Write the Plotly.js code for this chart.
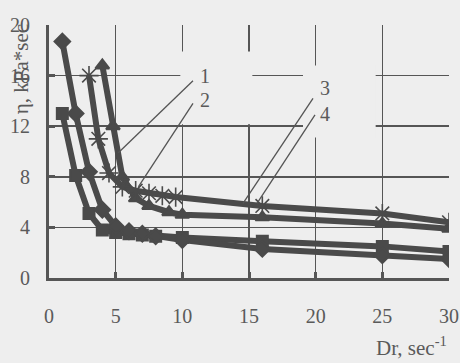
<!DOCTYPE html>
<html>
<head>
<meta charset="utf-8">
<script src="https://cdn.plot.ly/plotly-3.0.1.min.js"></script>
<style>html,body{margin:0;padding:0;background:#eeeeee;}#chart{width:460px;height:363px;}</style>
</head>
<body>
<div id="chart"></div>
<script>
// Series data
const squareX = [1, 2, 3, 4, 5, 6, 7, 8, 10, 16, 25, 30];
const squareY = [13, 8.1, 5.1, 3.8, 3.6, 3.5, 3.4, 3.3, 3.2, 2.9, 2.5, 2.1];
const diamondX = [1, 2, 3, 4, 5, 6, 7, 8, 10, 16, 25, 30];
const diamondY = [18.7, 13, 8.4, 5.4, 4.1, 3.7, 3.5, 3.3, 3.0, 2.3, 1.8, 1.5];
const starX = [3, 3.7, 4.5, 5.5, 6.5, 7.5, 8.5, 9.5, 16, 25, 30];
const starY = [16, 11, 8.3, 7.2, 6.9, 6.7, 6.5, 6.4, 5.7, 5.1, 4.4];
const triX = [4, 4.8, 5.5, 6.5, 7.5, 9, 10, 16, 25, 30];
const triY = [16.8, 12, 8, 6.3, 5.7, 5.2, 5.0, 4.8, 4.3, 3.9];
const xTicks = [0, 5, 10, 15, 20, 25, 30];
const yTicks = [0, 4, 8, 12, 16, 20];
const curveLabels = ['1', '2', '3', '4'];

const C = '#4a4a4a';
const font = {family: 'Liberation Serif', size: 20, color: '#5a5a5a'};
const fontT = {family: 'Liberation Serif', size: 21, color: '#5a5a5a'};

function tr(x, y, sym, size, extra) {
  return Object.assign({
    x: x, y: y, type: 'scatter', mode: 'lines+markers',
    line: {color: C, width: 6},
    marker: {symbol: sym, size: size, color: C, line: {color: C, width: 2}},
    hoverinfo: 'skip', showlegend: false
  }, extra || {});
}

const data = [
  tr(squareX, squareY, 'square', 11),
  tr(diamondX, diamondY, 'diamond', 12),
  tr(triX, triY, 'triangle-up', 12),
  tr(starX, starY, 'asterisk-open', 16, {marker: {symbol: 'asterisk-open', size: 16, color: C, line: {color: C, width: 1.6}}})
];

const leader = [
  [10.8, 15.6, 5.2, 9.9],
  [10.8, 13.8, 6.7, 7.2],
  [19.8, 14.2, 14.55, 5.9],
  [19.95, 12.9, 15.6, 5.9]
];
const labelPos = [[11.7, 16.0], [11.7, 14.1], [20.7, 15.0], [20.7, 13.0]];

const shapes = [
  {type: 'rect', xref: 'x', yref: 'y', x0: 9.85, x1: 15.25, y0: 12.15, y1: 17.9,
   fillcolor: '#eeeeee', line: {width: 0}, layer: 'between'},
  {type: 'rect', xref: 'x', yref: 'y', x0: 19.05, x1: 24.5, y0: 11.1, y1: 16.8,
   fillcolor: '#eeeeee', line: {width: 0}, layer: 'between'}
];
leader.forEach(l => shapes.push({type: 'line', xref: 'x', yref: 'y',
  x0: l[0], y0: l[1], x1: l[2], y1: l[3], line: {color: '#555555', width: 1.3}, layer: 'above'}));

const annotations = curveLabels.map((t, i) => ({
  text: t, x: labelPos[i][0], y: labelPos[i][1], xref: 'x', yref: 'y',
  showarrow: false, font: font, xanchor: 'center', yanchor: 'middle'
}));
annotations.push({text: 'η, kPa*sec', xref: 'paper', yref: 'paper', x: -0.07, y: 0.825,
  textangle: -90, showarrow: false, font: fontT,
  xanchor: 'center', yanchor: 'middle'});
annotations.push({text: 'Dr, sec<sup>-1</sup>', xref: 'paper', yref: 'paper', x: 1.0, y: -0.27,
  showarrow: false, font: fontT, xanchor: 'right', yanchor: 'middle'});

const layout = {
  width: 460, height: 363,
  font: font,
  margin: {l: 49, r: 11, t: 25, b: 85},
  paper_bgcolor: '#eeeeee', plot_bgcolor: '#eeeeee',
  showlegend: false,
  xaxis: {range: [0, 30], tickvals: xTicks, ticktext: xTicks.map(String),
    showgrid: true, gridcolor: '#555555', gridwidth: 1.5, zeroline: false,
    showline: true, linecolor: '#555555', linewidth: 3,
    ticks: 'inside', ticklen: 6, tickwidth: 3, tickcolor: '#555555',
    tickfont: font, ticklabelstandoff: 18, fixedrange: true},
  yaxis: {range: [0, 20], tickvals: yTicks, ticktext: yTicks.map(String),
    showgrid: true, gridcolor: '#555555', gridwidth: 1.5, zeroline: false,
    showline: true, linecolor: '#555555', linewidth: 3,
    ticks: 'inside', ticklen: 6, tickwidth: 3, tickcolor: '#555555',
    tickfont: font, ticklabelstandoff: 12, fixedrange: true},
  shapes: shapes,
  annotations: annotations
};

Plotly.newPlot('chart', data, layout, {displayModeBar: false, staticPlot: true});
</script>
</body>
</html>
